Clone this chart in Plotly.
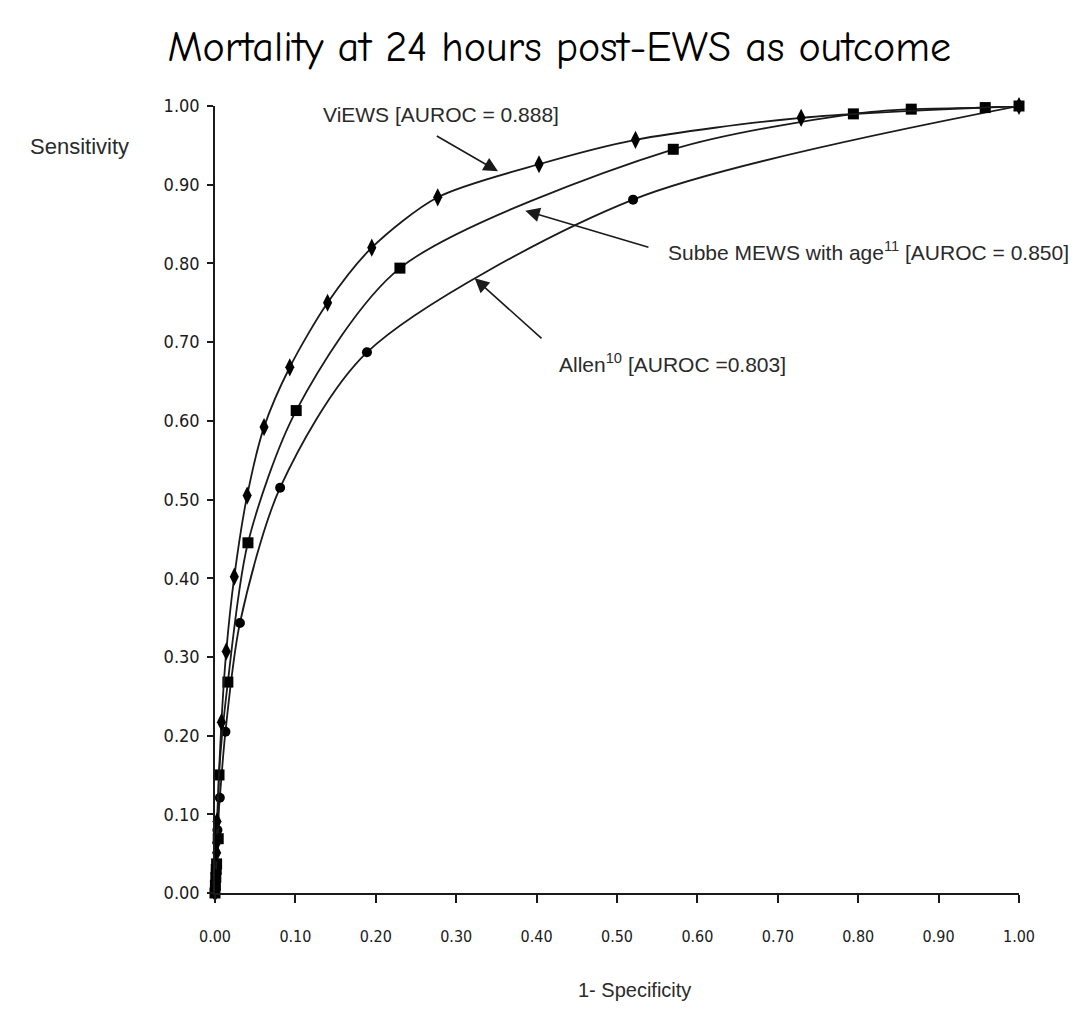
import plotly.graph_objects as go

# ViEWS (diamonds)
views_x = [0.0, 0.001, 0.002, 0.002, 0.0025, 0.008, 0.014, 0.024, 0.040, 0.061, 0.093, 0.140, 0.195, 0.277, 0.403, 0.523, 0.729, 1.0]
views_y = [0.0, 0.02, 0.051, 0.064, 0.091, 0.217, 0.307, 0.402, 0.505, 0.592, 0.668, 0.750, 0.820, 0.884, 0.926, 0.957, 0.985, 1.0]

# Subbe MEWS with age (squares)
subbe_x = [0.0, 0.0005, 0.001, 0.0015, 0.002, 0.004, 0.005, 0.016, 0.041, 0.101, 0.230, 0.570, 0.794, 0.866, 0.958, 1.0]
subbe_y = [0.0, 0.01, 0.02, 0.03, 0.037, 0.069, 0.150, 0.268, 0.445, 0.613, 0.794, 0.945, 0.990, 0.996, 0.998, 1.0]

# Allen (circles)
allen_x = [0.0, 0.001, 0.003, 0.006, 0.013, 0.031, 0.081, 0.189, 0.520, 1.0]
allen_y = [0.0, 0.03, 0.08, 0.121, 0.205, 0.343, 0.515, 0.687, 0.881, 1.0]

tick_vals = [i / 10 for i in range(11)]
tick_text = ["%.2f" % v for v in tick_vals]

title_text = "Mortality at 24 hours post-EWS as outcome"
x_title = "1- Specificity"
y_title = "Sensitivity"

# label text, text anchor (x, y), arrow head (x, y), arrow tail (x, y)
labels = [
    ("ViEWS [AUROC = 0.888]", 0.132, 0.989, 0.352, 0.917, 0.274, 0.963),
    ("Subbe MEWS with age<sup>11</sup> [AUROC = 0.850]", 0.561, 0.816, 0.386, 0.867, 0.541, 0.820),
    ("Allen<sup>10</sup> [AUROC =0.803]", 0.425, 0.673, 0.323, 0.781, 0.408, 0.703),
]

line_col = "#1a1a1a"
fig = go.Figure()
for xs, ys, sym, size, name in [
    (allen_x, allen_y, "circle", 10, "Allen"),
    (subbe_x, subbe_y, "square", 11, "Subbe"),
    (views_x, views_y, "diamond-tall", 13, "ViEWS"),
]:
    fig.add_trace(go.Scatter(
        x=xs, y=ys, mode="lines+markers", name=name,
        line=dict(color=line_col, width=1.8, shape="spline", smoothing=0.8),
        marker=dict(symbol=sym, size=size, color="#000000"),
        cliponaxis=False, showlegend=False,
    ))

ann_font = dict(family="Liberation Sans, Arial, sans-serif", size=21, color="#2a2a2a")
annotations = []
for text, tx, ty, hx, hy, ax, ay in labels:
    annotations.append(dict(x=tx, y=ty, xref="x", yref="y", text=text, showarrow=False,
                            xanchor="left", yanchor="middle", font=ann_font))
    annotations.append(dict(x=hx, y=hy, xref="x", yref="y", ax=ax, ay=ay, axref="x", ayref="y",
                            text="", showarrow=True, arrowhead=2, arrowsize=1.8, arrowwidth=1.6,
                            arrowcolor="#1a1a1a"))

annotations.append(dict(x=-0.168, y=0.948, xref="paper", yref="paper", text=y_title, showarrow=False,
                        xanchor="center", yanchor="middle",
                        font=dict(family="Liberation Sans, Arial, sans-serif", size=22, color="#2a2a2a")))
annotations.append(dict(x=0.522, y=-0.123, xref="paper", yref="paper", text=x_title, showarrow=False,
                        xanchor="center", yanchor="middle",
                        font=dict(family="Liberation Sans, Arial, sans-serif", size=20, color="#2a2a2a")))

fig.update_layout(
    width=1083, height=1011,
    margin=dict(l=207, r=72, t=98, b=126),
    paper_bgcolor="white", plot_bgcolor="white",
    title=dict(text=title_text, x=0.509, xanchor="center", y=0.962, yanchor="middle",
               font=dict(family="Comic Sans MS, Comic Neue, Noto Sans, sans-serif", size=42, color="#000000")),
    annotations=annotations,
)

tick_family = "Liberation Sans Narrow, Arial Narrow, DejaVu Sans Condensed, Liberation Sans, sans-serif"
fig.update_xaxes(range=[0, 1], tickvals=tick_vals, ticktext=tick_text, showgrid=False, zeroline=False,
                 showline=True, linecolor="#1a1a1a", linewidth=1.5, ticks="outside", ticklen=8,
                 tickcolor="#1a1a1a", tickwidth=1.5,
                 tickfont=dict(family=tick_family, size=16, color="#1a1a1a"), ticklabelstandoff=20)
fig.update_yaxes(range=[0, 1], tickvals=tick_vals, ticktext=tick_text, showgrid=False, zeroline=False,
                 showline=True, linecolor="#1a1a1a", linewidth=1.5, ticks="outside", ticklen=6,
                 tickcolor="#1a1a1a", tickwidth=1.5,
                 tickfont=dict(family=tick_family, size=18, color="#1a1a1a"), ticklabelstandoff=4)

fig.write_html("out.html")
